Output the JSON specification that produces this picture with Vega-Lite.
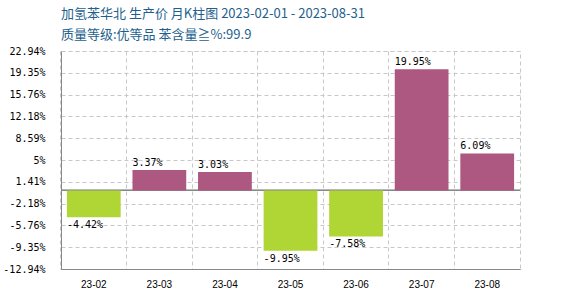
{
  "$schema": "https://vega.github.io/schema/vega-lite/v6.json",
  "autosize": {"type": "none"},
  "padding": {"left": 61, "top": 51, "right": 50, "bottom": 31},
  "width": 459,
  "height": 218,
  "background": "#ffffff",
  "title": {
    "text": ["加氢苯华北 生产价 月K柱图 2023-02-01 - 2023-08-31", "质量等级:优等品 苯含量≧%:99.9"],
    "anchor": "start",
    "frame": "group",
    "font": "Noto Sans CJK SC",
    "fontSize": 13,
    "fontWeight": "normal",
    "color": "#1E5F8E",
    "lineHeight": 21,
    "offset": 4
  },
  "data": {
    "values": [
      {"month": "23-02", "value": -4.42, "label": "-4.42%"},
      {"month": "23-03", "value": 3.37, "label": "3.37%"},
      {"month": "23-04", "value": 3.03, "label": "3.03%"},
      {"month": "23-05", "value": -9.95, "label": "-9.95%"},
      {"month": "23-06", "value": -7.58, "label": "-7.58%"},
      {"month": "23-07", "value": 19.95, "label": "19.95%"},
      {"month": "23-08", "value": 6.09, "label": "6.09%"}
    ]
  },
  "encoding": {
    "x": {
      "field": "month",
      "type": "nominal",
      "sort": null,
      "scale": {"paddingInner": 0.18, "paddingOuter": 0.09},
      "axis": {
        "title": null,
        "labelAngle": 0,
        "ticks": false,
        "labelPadding": 10,
        "labelFont": "Liberation Sans",
        "labelFontSize": 10,
        "labelColor": "#000000",
        "domainColor": "#888888",
        "grid": true,
        "bandPosition": -0.11
      }
    }
  },
  "layer": [
    {
      "mark": {"type": "rule", "color": "#888888", "strokeWidth": 1},
      "encoding": {"y": {"datum": 0, "type": "quantitative"}, "x": null}
    },
    {
      "mark": {"type": "bar"},
      "encoding": {
        "y": {
          "field": "value",
          "type": "quantitative",
          "scale": {"domain": [-12.94, 22.94], "nice": false, "zero": false},
          "axis": {
            "title": null,
            "values": [22.94, 19.35, 15.76, 12.18, 8.59, 5, 1.41, -2.18, -5.76, -9.35, -12.94],
            "tickCount": 30,
            "labelExpr": "datum.value + '%'",
            "labelOverlap": false,
            "ticks": false,
            "labelPadding": 16,
            "labelFont": "DejaVu Sans Mono",
            "labelFontSize": 10,
            "labelColor": "#000000",
            "domainColor": "#888888",
            "grid": true
          }
        },
        "y2": {"datum": 0},
        "color": {
          "condition": {"test": "datum.value >= 0", "value": "#AC5880"},
          "value": "#AFD634"
        }
      }
    },
    {
      "transform": [{"filter": "datum.value >= 0"}],
      "mark": {"type": "text", "align": "left", "baseline": "bottom", "dy": -2, "font": "DejaVu Sans Mono", "fontSize": 10, "color": "#000000"},
      "encoding": {
        "x": {"field": "month", "type": "nominal", "sort": null, "bandPosition": 0},
        "y": {"field": "value", "type": "quantitative"},
        "text": {"field": "label"}
      }
    },
    {
      "transform": [{"filter": "datum.value < 0"}],
      "mark": {"type": "text", "align": "left", "baseline": "top", "dy": 3, "font": "DejaVu Sans Mono", "fontSize": 10, "color": "#000000"},
      "encoding": {
        "x": {"field": "month", "type": "nominal", "sort": null, "bandPosition": 0},
        "y": {"field": "value", "type": "quantitative"},
        "text": {"field": "label"}
      }
    }
  ],
  "config": {
    "view": {"stroke": "#c8c8c8", "strokeDash": [4, 3]},
    "axis": {"gridColor": "#c8c8c8", "gridDash": [4, 3], "gridOpacity": 1}
  }
}
